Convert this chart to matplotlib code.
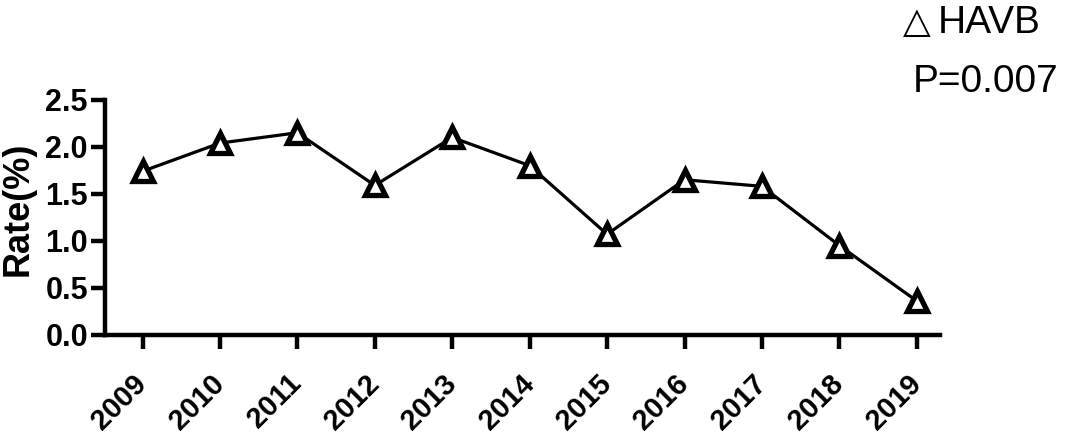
import matplotlib.pyplot as plt
import matplotlib.transforms as mtransforms

years = ['2009', '2010', '2011', '2012', '2013', '2014', '2015', '2016', '2017', '2018', '2019']
rate = [1.74, 2.04, 2.15, 1.59, 2.10, 1.80, 1.07, 1.65, 1.58, 0.95, 0.36]
yticks = [0.0, 0.5, 1.0, 1.5, 2.0, 2.5]

plt.rcParams['font.family'] = ['Liberation Sans', 'DejaVu Sans']

fig = plt.figure(figsize=(10.67, 4.36), dpi=100)
ax = fig.add_axes([0.098, 0.232, 0.783, 0.539])

x = list(range(len(years)))
ax.plot(x, rate, color='black', linewidth=2.3, marker='^', markersize=15,
        markerfacecolor='white', markeredgecolor='black', markeredgewidth=3.8, clip_on=False)

ax.set_xlim(-0.49, len(years) - 1 + 0.3)
ax.set_ylim(0, 2.5)
ax.set_xticks(x)
ax.set_xticklabels(years, rotation=45, ha='right', va='center', rotation_mode='anchor',
                   fontsize=21, fontweight='bold')
# nudge the rotated year labels a little to the right
shift = mtransforms.ScaledTranslation(14 / 100, 0, fig.dpi_scale_trans)
for lab in ax.get_xticklabels():
    lab.set_transform(lab.get_transform() + shift)
ax.set_yticks(yticks)
ax.set_yticklabels(['%.1f' % v for v in yticks], fontsize=22, fontweight='bold')
ax.set_ylabel('Rate(%)', fontsize=26, fontweight='bold', va='center')
ax.yaxis.set_label_coords(-0.104, 0.535)

for side in ['top', 'right']:
    ax.spines[side].set_visible(False)
for side in ['left', 'bottom']:
    ax.spines[side].set_linewidth(3.2)
ax.tick_params(width=3.2, length=10, direction='out')
ax.tick_params(axis='y', pad=2)
ax.tick_params(axis='x', pad=22)

# legend-like note in the top right corner
fig.text(0.846, 0.924, '\u25b3', fontsize=26, ha='left', va='baseline')
fig.text(0.879, 0.924, 'HAVB', fontsize=28, ha='left', va='baseline')
fig.text(0.855, 0.789, 'P=0.007', fontsize=28, ha='left', va='baseline')

fig.savefig('out.png', dpi=100)
